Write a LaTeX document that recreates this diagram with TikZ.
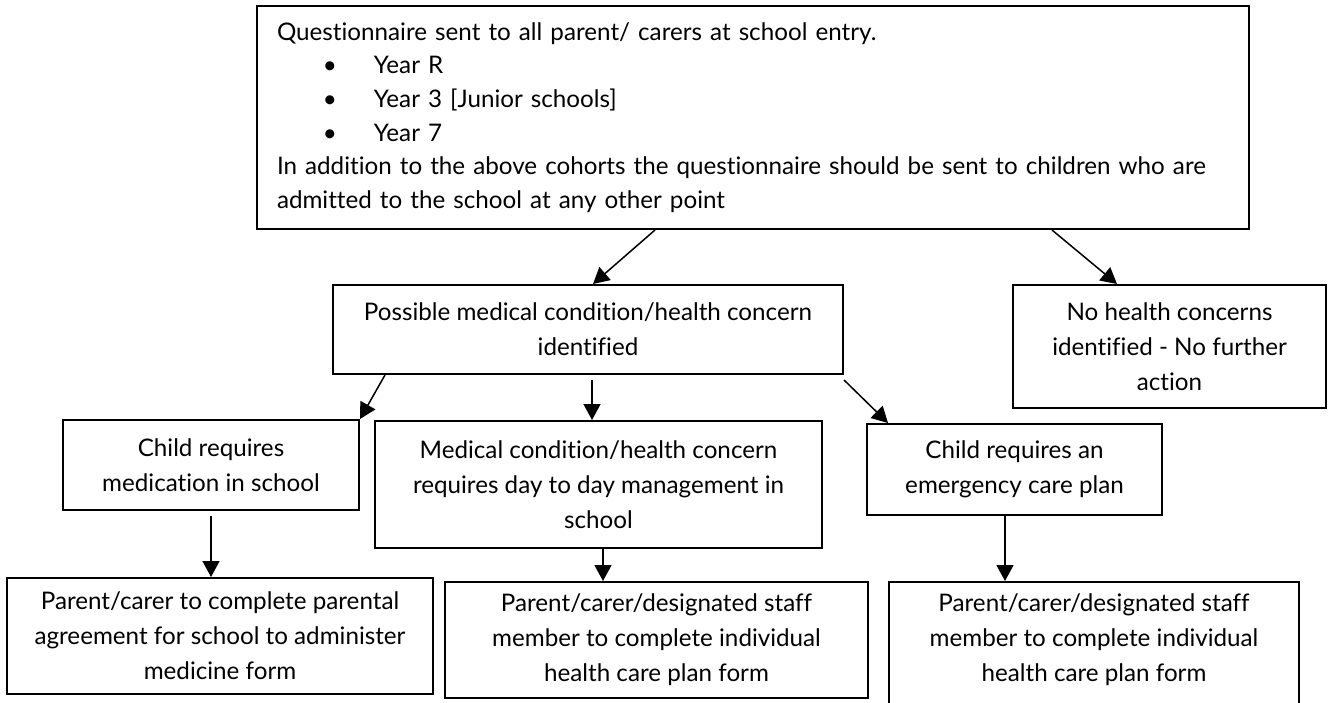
\documentclass[tikz,border=0pt]{standalone}
\usepackage{fontspec}
\setmainfont{Lato}[Ligatures=NoCommon]
\usetikzlibrary{arrows.meta}
\begin{document}
\begin{tikzpicture}[x=0.5pt,y=-0.5pt,
  txt/.style={inner sep=0pt, align=center, font=\fontsize{12.1}{17.5}\selectfont},
  box/.style={draw, line width=1pt, txt},
  arr/.style={line width=0.75pt, -{Triangle[length=8pt,width=8.5pt]}}]
\useasboundingbox[fill=white] (0,0) rectangle (1328,702);
\newcommand{\bulletitem}[1]{\hspace*{26.5pt}\makebox[0pt]{\textbullet}\hspace*{22pt}#1}
\node[box, align=left, inner xsep=10pt, text width=476pt, minimum width=496pt, minimum height=111.5pt,
  font=\fontsize{12.1}{16.8}\selectfont] (T) at (753,117.5)
  {Questionnaire sent to all parent/ carers at school entry.\\
   \bulletitem{Year R}\\
   \bulletitem{Year 3 [Junior schools]}\\
   \bulletitem{Year 7}\\
   In addition to the above cohorts the questionnaire should be sent to children who are\\
   admitted to the school at any other point};
\node[box, minimum width=255pt, minimum height=44.5pt] (P) at (588,329.5)
  {Possible medical condition/health concern\\identified};
\node[box, minimum width=156.5pt, minimum height=61.5pt] (N) at (1169.5,346.5)
  {No health concerns\\identified - No further\\action};
\node[box, minimum width=148pt, minimum height=45pt] (M) at (211,465)
  {Child requires\\medication in school};
\node[box, minimum width=223.5pt, minimum height=63.5pt] (D) at (598.5,484.5)
  {Medical condition/health concern\\requires day to day management in\\school};
\node[box, minimum width=147.5pt, minimum height=45.5pt] (E) at (1014.5,469.5)
  {Child requires an\\emergency care plan};
\node[box, minimum width=213pt, minimum height=58pt] (BL) at (220,636)
  {Parent/carer to complete parental\\agreement for school to administer\\medicine form};
\node[box, minimum width=211.5pt, minimum height=58pt] (BM) at (656.5,640)
  {Parent/carer/designated staff\\member to complete individual\\health care plan form};
\node[box, minimum width=205pt, minimum height=63pt,
  label={[txt, yshift=2.5pt]center:{Parent/carer/designated staff\\member to complete individual\\health care plan form}}] (BR) at (1094,645) {};
\draw[arr] (T.south -| 655,0) -- (P.north -| 593,0);
\draw[arr] (T.south -| 1052,0) -- (N.north -| 1117,0);
\draw[arr] (P.south -| 385,0) -- (M.north east);
\draw[arr] ([yshift=-2.5pt]P.south -| 592,0) -- (D.north -| 592,0);
\draw[arr] ([yshift=-2.5pt]P.south east) -- (E.north -| 888,0);
\draw[arr] ([yshift=-2.5pt]M.south) -- (BL.north -| 211,0);
\draw[arr] (D.south -| 603,0) -- (BM.north -| 603,0);
\draw[arr] (E.south -| 1005,0) -- (BR.north -| 1005,0);
\end{tikzpicture}
\end{document}
